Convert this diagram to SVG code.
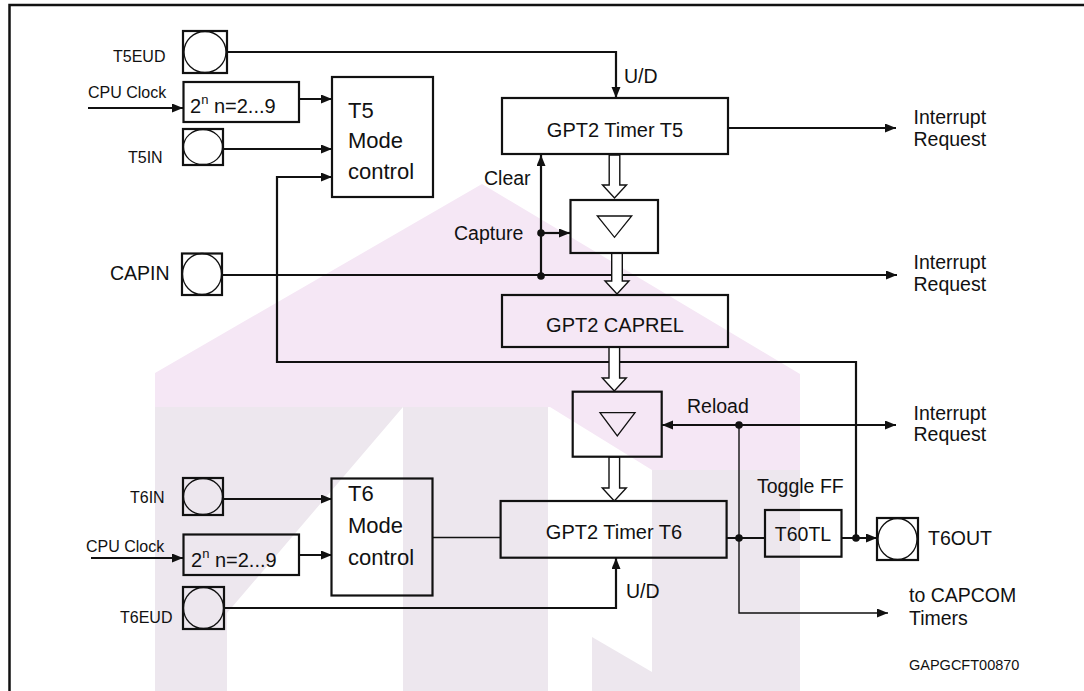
<svg xmlns="http://www.w3.org/2000/svg" width="1084" height="691" viewBox="0 0 1084 691">
<style>
text{font-family:"Liberation Sans",Arial,sans-serif;fill:#111}
.s{font-size:16px}
.m{font-size:19.5px}
.b{font-size:20px}
.mc{font-size:22px}
.box{fill:none;stroke:#111;stroke-width:2.2}
.pad rect{fill:none;stroke:#111;stroke-width:2.2}
.pad ellipse{fill:none;stroke:#111;stroke-width:1.3}
.ln{fill:none;stroke:#111;stroke-width:2.2}
.thin{fill:none;stroke:#111;stroke-width:1.4}
.arr{marker-end:url(#ah)}
.hol{fill:#fff;stroke:#111;stroke-width:1.4}
.tri{fill:none;stroke:#111;stroke-width:1.3}
.dot{fill:#111}
.wp{fill:#f5e7f5}
.wg{fill:#ede7ee}
</style>
<defs>
<marker id="ah" markerUnits="userSpaceOnUse" markerWidth="12" markerHeight="10" refX="11" refY="4.5" orient="auto">
<path d="M0,0 L11,4.5 L0,9 z" fill="#111"/>
</marker>
</defs>
<rect width="1084" height="691" fill="#fff"/>
<g id="watermark">
<polygon class="wp" points="155,373 482,184 800,374 800,470 652,470 550,407 155,407"/>
<polygon class="wg" points="155,407 403,407 227,613 227,691 155,691"/>
<polygon class="wg" points="403,407 548,407 548,691 403,691"/>
<polygon class="wg" points="652,470 800,470 800,691 652,691"/>
<polygon class="wg" points="592,637 652,672 652,691 592,691"/>
</g>
<g id="frame">
<path d="M9.5,691 V5 H1084" fill="none" stroke="#111" stroke-width="2.5"/>
</g>
<g id="connectors">
<path class="ln arr" d="M227,52 H616 V98"/>
<path class="ln arr" d="M88,108 H183"/>
<path class="ln arr" d="M299,99 H332"/>
<path class="ln arr" d="M223,149 H332"/>
<path class="ln arr" d="M856,538 V362 H277 V177 H332"/>
<path class="ln arr" d="M728,128 H896"/>
<path class="ln arr" d="M541,276 V155"/>
<path class="ln arr" d="M541,233 H570"/>
<path class="ln arr" d="M222,275 H897"/>
<path class="ln arr" d="M739,425 H662"/>
<path class="ln arr" d="M739,425 H896"/>
<path class="thin arr" d="M739,425 V613 H888"/>
<path class="ln" d="M726,538 H765"/>
<path class="ln arr" d="M842,538 H877"/>
<path class="ln arr" d="M223,499 H332"/>
<path class="ln arr" d="M91,558 H183"/>
<path class="ln arr" d="M299,555 H332"/>
<path class="thin" d="M433,537.5 H501"/>
<path class="ln arr" d="M224,608 H616 V558"/>
<circle class="dot" cx="541" cy="233" r="3.8"/>
<circle class="dot" cx="541" cy="276" r="3.8"/>
<circle class="dot" cx="739" cy="425" r="3.8"/>
<circle class="dot" cx="739" cy="538" r="3.8"/>
<circle class="dot" cx="856" cy="538" r="3.8"/>
<path class="hol" d="M609.2,155 H619.8 V185 H626.5 L614.5,198 L602.5,185 H609.2 Z"/>
<path class="hol" d="M611.7,253 H622.3 V281 H629 L617,294 L605,281 H611.7 Z"/>
<path class="hol" d="M609,347 H619.6 V378 H626.3 L614.3,391 L602.3,378 H609 Z"/>
<path class="hol" d="M609,457 H619.6 V488 H626.3 L614.3,501 L602.3,488 H609 Z"/>
</g>
<g id="T5EUD" class="pad"><rect x="183" y="31" width="44" height="42"/><ellipse cx="205" cy="52" rx="21" ry="20.5"/></g>
<text class="s" x="113" y="62">T5EUD</text>
<text class="s" x="88" y="98">CPU Clock</text>
<g id="presc5"><rect class="box" x="183.5" y="82" width="115.5" height="40"/><text class="b" x="190" y="113">2<tspan font-size="13" dy="-9">n</tspan><tspan dy="9"> n=2...9</tspan></text></g>
<g id="T5IN" class="pad"><rect x="183" y="129" width="40" height="36"/><ellipse cx="203" cy="147" rx="19.5" ry="17.5"/></g>
<text class="s" x="128" y="163">T5IN</text>
<g id="T5mode"><rect class="box" x="332" y="77" width="101" height="120"/><text class="mc" x="348" y="118">T5</text><text class="mc" x="348" y="148">Mode</text><text class="mc" x="348" y="179">control</text></g>
<text class="m" x="624" y="83">U/D</text>
<g id="T5"><rect class="box" x="502" y="98" width="226" height="56"/><text class="b" x="615" y="137" text-anchor="middle">GPT2 Timer T5</text></g>
<text class="m" x="913.5" y="124">Interrupt</text>
<text class="m" x="913.5" y="145.5">Request</text>
<text class="m" x="484" y="185">Clear</text>
<g id="capture"><rect class="box" x="570.5" y="200" width="87.5" height="53"/><path class="tri" d="M597.3,216 H631.7 L614.5,237.3 Z"/></g>
<text class="m" x="454" y="240">Capture</text>
<g id="CAPIN" class="pad"><rect x="182" y="253.5" width="40" height="41.5"/><ellipse cx="202" cy="274" rx="19.5" ry="20.5"/></g>
<text class="m" x="110" y="280">CAPIN</text>
<text class="m" x="913.5" y="268.5">Interrupt</text>
<text class="m" x="913.5" y="290.5">Request</text>
<g id="CAPREL"><rect class="box" x="502" y="295" width="226" height="52"/><text class="b" x="615" y="332" text-anchor="middle">GPT2 CAPREL</text></g>
<g id="reloadbox"><rect class="box" x="572.7" y="391.7" width="89" height="65"/><path class="tri" d="M600,412.7 H635 L617.3,436 Z"/></g>
<text class="m" x="687" y="413">Reload</text>
<text class="m" x="913.5" y="420">Interrupt</text>
<text class="m" x="913.5" y="441">Request</text>
<text class="m" x="757" y="493">Toggle FF</text>
<g id="T6"><rect class="box" x="500.6" y="501" width="226" height="56.7"/><text class="b" x="614" y="539" text-anchor="middle">GPT2 Timer T6</text></g>
<g id="T60TL"><rect class="box" x="765" y="510" width="76.5" height="46.7"/><text class="m" x="803" y="540.5" text-anchor="middle">T60TL</text></g>
<g id="T6OUT" class="pad"><rect x="877" y="518" width="41" height="42"/><ellipse cx="897.5" cy="539" rx="19.5" ry="20.5"/></g>
<text class="m" x="928" y="545">T6OUT</text>
<text class="m" x="909" y="602">to CAPCOM</text>
<text class="m" x="909" y="625">Timers</text>
<text x="909" y="670" font-size="14.5">GAPGCFT00870</text>
<g id="T6IN" class="pad"><rect x="183" y="478" width="40" height="37"/><ellipse cx="203" cy="496.5" rx="19.5" ry="18"/></g>
<text class="s" x="130" y="503" font-size="17">T6IN</text>
<text class="s" x="86" y="552">CPU Clock</text>
<g id="presc6"><rect class="box" x="183.5" y="534.5" width="115.5" height="40.5"/><text class="b" x="191" y="567">2<tspan font-size="13" dy="-9">n</tspan><tspan dy="9"> n=2...9</tspan></text></g>
<g id="T6mode"><rect class="box" x="331.5" y="478.5" width="101" height="117"/><text class="mc" x="348" y="501">T6</text><text class="mc" x="348" y="533">Mode</text><text class="mc" x="348" y="565">control</text></g>
<g id="T6EUD" class="pad"><rect x="183" y="587" width="41" height="42"/><ellipse cx="203.5" cy="608" rx="20" ry="20.5"/></g>
<text class="s" x="120" y="623" font-size="15.5">T6EUD</text>
<text class="m" x="626" y="598">U/D</text>
</svg>
